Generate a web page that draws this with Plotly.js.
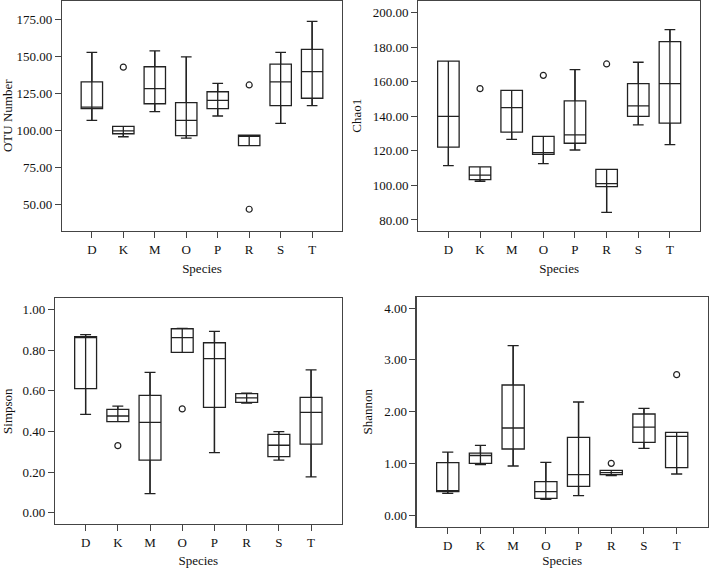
<!DOCTYPE html>
<html>
<head>
<meta charset="utf-8">
<script src="https://cdn.plot.ly/plotly-3.0.1.min.js"></script>
<style>html,body{margin:0;padding:0;background:#fff;}#chart{width:709px;height:568px;}</style>
</head>
<body>
<div id="chart"></div>
<script>
const species = ['D','K','M','O','P','R','S','T'];

// OTU Number
const otuLow  = [107, 96, 113, 95, 110, 90, 105, 117];
const otuQ1   = [115, 98, 118.3, 96.8, 115, 90, 117, 122];
const otuMed  = [116, 100, 128.5, 107, 120.6, 96.5, 133, 140];
const otuQ3   = [133, 103, 143.3, 119, 126.4, 97, 145, 155];
const otuHigh = [153, 103, 154, 150, 132, 97, 153, 174];
const otuOutX = ['K','R','R'];
const otuOutY = [143, 131, 47];

// Chao1
const chaoLow  = [111.4, 102.4, 126.7, 112.6, 120.5, 84.4, 135, 123.6];
const chaoQ1   = [122.2, 103.3, 130.9, 118, 124.4, 99.3, 140, 136.1];
const chaoMed  = [140, 106, 145, 119, 129.2, 101, 146, 158.9];
const chaoQ3   = [172, 110.7, 155, 128.4, 148.9, 109.3, 158.9, 183.2];
const chaoHigh = [172, 110.7, 155, 128.4, 167, 109.3, 171.3, 190.2];
const chaoOutX = ['K','O','R'];
const chaoOutY = [156, 163.7, 170.3];

// Simpson
const simpLow  = [0.484, 0.448, 0.094, 0.790, 0.296, 0.540, 0.259, 0.176];
const simpQ1   = [0.611, 0.448, 0.259, 0.790, 0.519, 0.543, 0.276, 0.337];
const simpMed  = [0.862, 0.476, 0.445, 0.862, 0.759, 0.565, 0.332, 0.494];
const simpQ3   = [0.867, 0.509, 0.578, 0.906, 0.837, 0.586, 0.386, 0.568];
const simpHigh = [0.877, 0.525, 0.691, 0.908, 0.893, 0.589, 0.399, 0.703];
const simpOutX = ['K','O'];
const simpOutY = [0.330, 0.511];

// Shannon
const shanLow  = [0.419, 0.973, 0.947, 0.303, 0.374, 0.760, 1.288, 0.792];
const shanQ1   = [0.450, 0.998, 1.275, 0.322, 0.554, 0.779, 1.404, 0.915];
const shanMed  = [0.470, 1.150, 1.681, 0.451, 0.779, 0.818, 1.700, 1.520];
const shanQ3   = [1.011, 1.195, 2.512, 0.644, 1.501, 0.863, 1.952, 1.597];
const shanHigh = [1.215, 1.346, 3.272, 1.018, 2.184, 0.863, 2.061, 1.597];
const shanOutX = ['R','T'];
const shanOutY = [0.998, 2.712];

const lineCol = '#222';
function boxTrace(low,q1,med,q3,high,xa,ya){
  return {type:'box', x:species, lowerfence:low, q1:q1, median:med, q3:q3, upperfence:high,
    xaxis:xa, yaxis:ya, boxpoints:false, width:0.68, whiskerwidth:0.5,
    fillcolor:'rgba(255,255,255,0)', line:{color:lineCol, width:1.3}, showlegend:false, hoverinfo:'y'};
}
// the whisker stem runs through the box, as in the reference
function stemTrace(low,high,xa,ya){
  const xs=[], ys=[];
  species.forEach((s,i)=>{ xs.push(s,s,null); ys.push(low[i],high[i],null); });
  return {type:'scatter', mode:'lines', x:xs, y:ys, xaxis:xa, yaxis:ya, showlegend:false,
    connectgaps:false, line:{color:lineCol, width:1.3}, hoverinfo:'skip'};
}
function outTrace(xs,ys,xa,ya){
  return {type:'scatter', mode:'markers', x:xs, y:ys, xaxis:xa, yaxis:ya, showlegend:false,
    marker:{symbol:'circle-open', size:6, color:lineCol, line:{width:1.2, color:lineCol}}};
}
const data = [
  boxTrace(otuLow,otuQ1,otuMed,otuQ3,otuHigh,'x','y'), stemTrace(otuLow,otuHigh,'x','y'), outTrace(otuOutX,otuOutY,'x','y'),
  boxTrace(chaoLow,chaoQ1,chaoMed,chaoQ3,chaoHigh,'x2','y2'), stemTrace(chaoLow,chaoHigh,'x2','y2'), outTrace(chaoOutX,chaoOutY,'x2','y2'),
  boxTrace(simpLow,simpQ1,simpMed,simpQ3,simpHigh,'x3','y3'), stemTrace(simpLow,simpHigh,'x3','y3'), outTrace(simpOutX,simpOutY,'x3','y3'),
  boxTrace(shanLow,shanQ1,shanMed,shanQ3,shanHigh,'x4','y4'), stemTrace(shanLow,shanHigh,'x4','y4'), outTrace(shanOutX,shanOutY,'x4','y4')
];
const fnt = {family:'"Liberation Serif", "Times New Roman", serif', size:13, color:'#111'};
function xax(dom, anchor){
  return {domain:dom, anchor:anchor, type:'category', categoryorder:'array', categoryarray:species,
    range:[-0.95,7.95], showline:true, mirror:true, linecolor:'#444', linewidth:1.2,
    ticks:'outside', ticklen:6, tickcolor:'#444', showgrid:false, zeroline:false, fixedrange:true,
    tickfont:fnt, title:{text:'Species', font:fnt, standoff:8}};
}
function yax(dom, anchor, range, dtick, title){
  return {domain:dom, anchor:anchor, range:range, dtick:dtick, tick0:0, tickformat:'.2f',
    showline:true, mirror:true, linecolor:'#444', linewidth:1.2, ticks:'outside', ticklen:6, tickcolor:'#444',
    showgrid:false, zeroline:false, tickfont:fnt, title:{text:title, font:fnt, standoff:8}};
}
const layout = {
  width:709, height:568, margin:{l:0,r:0,t:0,b:0}, paper_bgcolor:'#fff', plot_bgcolor:'#fff',
  font:fnt, showlegend:false,
  xaxis: xax([0.0874,0.4824],'y'),
  yaxis: yax([0.5933,0.999],'x',[32.3,188],25,'OTU Number'),
  xaxis2: xax([0.590,0.9873],'y2'),
  yaxis2: yax([0.5933,0.999],'x2',[73.6,207],20,'Chao1'),
  xaxis3: xax([0.0776,0.4819],'y3'),
  yaxis3: yax([0.0775,0.4748],'x3',[-0.056,1.056],0.2,'Simpson'),
  xaxis4: xax([0.5877,0.9982],'y4'),
  yaxis4: yax([0.0727,0.4776],'x4',[-0.226,4.218],1,'Shannon')
};
Plotly.newPlot('chart', data, layout, {displayModeBar:false, staticPlot:true});
</script>
</body>
</html>
